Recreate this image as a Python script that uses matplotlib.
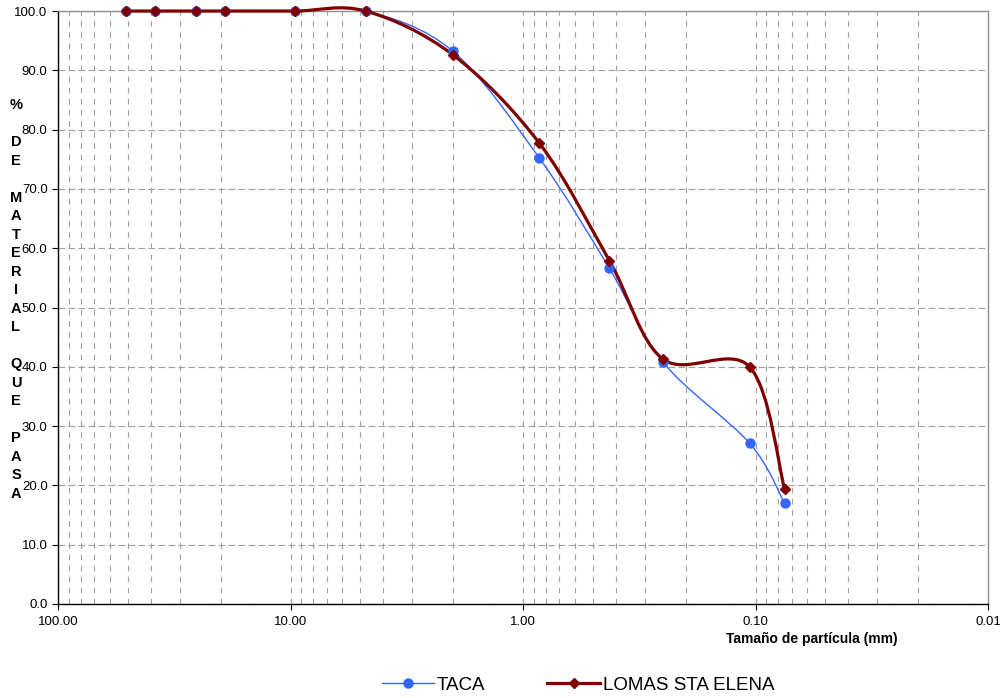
"""
Curva granulometrica: TACA vs LOMAS STA ELENA
"""

import numpy as np
import matplotlib
matplotlib.use('Agg')
import matplotlib.pyplot as plt
from matplotlib.path import Path
from matplotlib.patches import PathPatch
from matplotlib.ticker import FixedLocator, FuncFormatter, LogLocator

plt.rcParams['font.family'] = ['Liberation Sans', 'DejaVu Sans']

# abertura de tamices (mm)
sizes = [50.8, 38.1, 25.4, 19.05, 9.525, 4.75, 2.0, 0.85, 0.425, 0.25, 0.106, 0.075]
taca = [100.0, 100.0, 100.0, 100.0, 100.0, 100.0, 93.2, 75.2, 56.6, 40.8, 27.1, 17.0]
lomas = [100.0, 100.0, 100.0, 100.0, 100.0, 100.0, 92.6, 77.7, 57.9, 41.3, 40.0, 19.4]

y_ticks = [0, 10, 20, 30, 40, 50, 60, 70, 80, 90, 100]
x_ticks = [100, 10, 1, 0.1, 0.01]
y_letters = ['%', '', 'D', 'E', '', 'M', 'A', 'T', 'E', 'R', 'I', 'A', 'L', '',
             'Q', 'U', 'E', '', 'P', 'A', 'S', 'A']


def smooth_path(xs, ys):
    """Excel-like smoothed line: Catmull-Rom bezier in (log10 x, y) space"""
    u = np.log10(np.asarray(xs, dtype=float))
    v = np.asarray(ys, dtype=float)
    P = np.column_stack([u, v])
    n = len(P)
    verts = [P[0]]
    codes = [Path.MOVETO]
    for i in range(n - 1):
        p0 = P[max(i - 1, 0)]
        p1 = P[i]
        p2 = P[i + 1]
        p3 = P[min(i + 2, n - 1)]
        c1 = p1 + (p2 - p0) / 6.0
        c2 = p2 - (p3 - p1) / 6.0
        verts += [c1, c2, p2]
        codes += [Path.CURVE4] * 3
    verts = np.array(verts)
    verts[:, 0] = 10 ** verts[:, 0]
    return Path(verts, codes)


fig = plt.figure(figsize=(10, 6.98), dpi=100)
ax = fig.add_axes([0.058, 0.1347, 0.930, 0.8495])

ax.set_xscale('log')
ax.set_xlim(100, 0.01)
ax.set_ylim(0, 100)

# grid
ax.xaxis.set_major_locator(FixedLocator(x_ticks))
ax.xaxis.set_minor_locator(LogLocator(base=10, subs=np.arange(2, 10)))
ax.xaxis.set_major_formatter(FuncFormatter(lambda v, p: f'{v:.2f}'))
ax.xaxis.set_minor_formatter(FuncFormatter(lambda v, p: ''))
ax.yaxis.set_major_locator(FixedLocator(y_ticks))
ax.yaxis.set_major_formatter(FuncFormatter(lambda v, p: f'{v:.1f}'))

ax.grid(True, which='both', axis='x', color='#a0a0a0', linestyle=(0, (5, 5)), linewidth=0.8)
ax.grid(True, which='major', axis='y', color='#a0a0a0', linestyle=(0, (6, 3)), linewidth=0.8)
ax.set_axisbelow(True)

ax.tick_params(axis='both', which='major', labelsize=9.5, length=4, width=0.8, direction='out',
               colors='black')
ax.tick_params(axis='x', which='minor', length=0)
ax.tick_params(axis='x', which='major', pad=5)
for s in ['left', 'bottom']:
    ax.spines[s].set_color('black')
    ax.spines[s].set_linewidth(1.0)
for s in ['top', 'right']:
    ax.spines[s].set_color('#909090')
    ax.spines[s].set_linewidth(1.0)

# series
ax.add_patch(PathPatch(smooth_path(sizes, taca), facecolor='none', edgecolor='#3366ff',
                       linewidth=1.0, zorder=3, clip_on=False))
ax.add_patch(PathPatch(smooth_path(sizes, lomas), facecolor='none', edgecolor='#800000',
                       linewidth=2.3, zorder=4, clip_on=False))
ax.plot(sizes, taca, linestyle='none', marker='o', markersize=6.5, color='#3366ff',
        zorder=5, clip_on=False)
ax.plot(sizes, lomas, linestyle='none', marker='D', markersize=5, color='#800000',
        zorder=6, clip_on=False)

# legend handles
h1, = ax.plot([], [], color='#3366ff', linewidth=1.0, marker='o', markersize=6.5, label='TACA')
h2, = ax.plot([], [], color='#800000', linewidth=2.3, marker='D', markersize=5,
              label='LOMAS STA ELENA')
fig.legend(handles=[h1, h2], loc='center', bbox_to_anchor=(0.578, 0.018), ncol=2,
           frameon=False, fontsize=13.5, handlelength=2.8, handletextpad=0.15,
           columnspacing=3.3, borderpad=0)

fig.text(0.812, 0.085, 'Tamaño de partícula (mm)', ha='center', va='center',
         fontsize=10, fontweight='bold')
fig.text(0.016, 0.571, '\n'.join(y_letters), ha='center', va='center',
         fontsize=10.5, fontweight='bold', linespacing=1.41, multialignment='center')

plt.savefig('out.png', dpi=100)
plt.close()
